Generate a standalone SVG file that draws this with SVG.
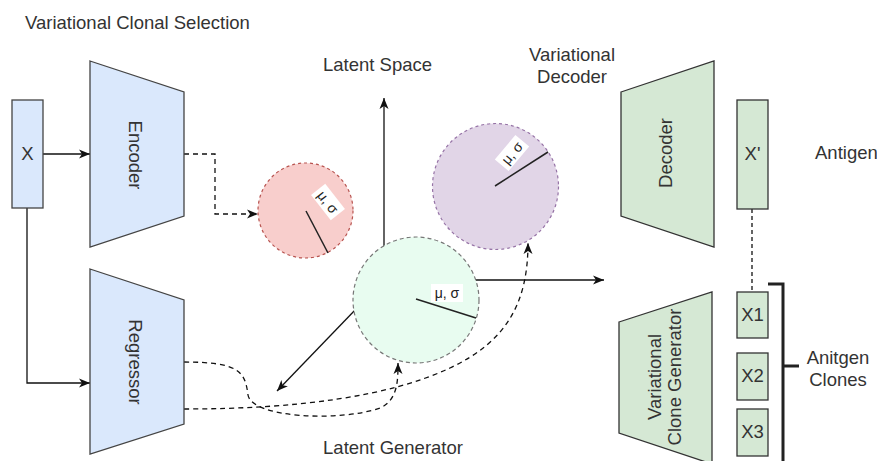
<svg xmlns="http://www.w3.org/2000/svg" width="877" height="461" viewBox="0 0 877 461">
<style>
text{font-family:"Liberation Sans",Arial,sans-serif;font-size:18.5px;fill:#333}
.lbl{font-size:14px}
.blue{fill:#dae8fc;stroke:#444;stroke-width:1.3}
.green{fill:#d5e8d4;stroke:#333;stroke-width:1.3}
.conn{fill:none;stroke:#111;stroke-width:1.3}
.dash{stroke-dasharray:5 4}
.mid{text-anchor:middle}
</style>
<defs>
<marker id="arr" markerUnits="userSpaceOnUse" markerWidth="12" markerHeight="10" refX="11" refY="5" orient="auto">
<path d="M0,0.5 L11,5 L0,9.5 L3,5 Z" fill="#111"/>
</marker>
</defs>
<rect width="877" height="461" fill="#fff"/>
<text x="25" y="29">Variational Clonal Selection</text>
<text x="323" y="71">Latent Space</text>
<text class="mid" x="572" y="61">Variational</text>
<text class="mid" x="572" y="83">Decoder</text>
<text x="815" y="159">Antigen</text>
<text class="mid" x="838" y="364">Anitgen</text>
<text class="mid" x="838" y="386">Clones</text>
<text class="mid" x="393" y="454">Latent Generator</text>

<g id="connectors">
<path class="conn" d="M43,154 L90,154" marker-end="url(#arr)"/>
<path class="conn" d="M27,208 L27,383 L90,383" marker-end="url(#arr)"/>
<path class="conn dash" d="M184,154 L215,154 L215,214 L258,214" marker-end="url(#arr)"/>
<path class="conn" d="M384,280 L384,98" marker-end="url(#arr)"/>
<path class="conn" d="M384,280 L604,280" marker-end="url(#arr)"/>
<path class="conn" d="M384,280 L277,391" marker-end="url(#arr)"/>
<path class="conn dash" d="M184,362 C240,362 245,372 248,395 C252,418 340,422 380,408 C398,400 398,380 398,363" marker-end="url(#arr)"/>
<path class="conn dash" d="M184,409 C300,409 390,396 450,368 C505,342 528,305 528,243" marker-end="url(#arr)"/>
<path class="conn dash" d="M752,209 L752,292" stroke-width="1" style="stroke-dasharray:4 3"/>
<path fill="none" stroke="#222" stroke-width="3" d="M768,284 L783,284 L783,465 M783,366 L799,366"/>
</g>

<g id="x"><rect class="blue" x="12" y="100" width="31" height="108"/><text class="mid" x="27.5" y="160">X</text></g>
<g id="encoder"><polygon class="blue" points="90,61 184,92 184,216 90,247"/><text class="mid" transform="translate(129,155) rotate(90)">Encoder</text></g>
<g id="regressor"><polygon class="blue" points="90,269 184,300 184,424 90,454"/><text class="mid" transform="translate(129,362) rotate(90)">Regressor</text></g>

<g id="red-dist">
<circle cx="305.5" cy="210.5" r="47.5" fill="#f8cecc" stroke="#b85450" stroke-width="1.2" stroke-dasharray="3 3"/>
<line x1="306" y1="211" x2="328" y2="253" stroke="#222" stroke-width="1.5"/>
<g transform="translate(328,202) rotate(52)"><rect x="-16" y="-9" width="32" height="18" fill="#fff"/><text class="mid lbl" y="5" style="fill:#222">μ, σ</text></g>
</g>

<g id="purple-dist">
<circle cx="495.5" cy="186.5" r="63" fill="#e1d5e7" stroke="#9673a6" stroke-width="1.2" stroke-dasharray="3 3"/>
<line x1="495" y1="186" x2="548" y2="152" stroke="#222" stroke-width="1.5"/>
<g transform="translate(512,153) rotate(-50)"><rect x="-16" y="-9" width="32" height="18" fill="#fff"/><text class="mid lbl" y="5" style="fill:#222">μ, σ</text></g>
</g>

<g id="green-dist">
<circle cx="416" cy="300" r="63" fill="#e8fcf0" stroke="#777" stroke-width="1.2" stroke-dasharray="4 3"/>
<line x1="416" y1="299" x2="476" y2="318" stroke="#222" stroke-width="1.5"/>
<g transform="translate(447,293)"><rect x="-16" y="-9" width="32" height="18" fill="#fff"/><text class="mid lbl" y="5" style="fill:#222">μ, σ</text></g>
</g>

<g id="decoder"><polygon class="green" points="621,92 714,61 714,247 621,216"/><text class="mid" transform="translate(672,153) rotate(-90)">Decoder</text></g>
<g id="xprime"><rect class="green" x="737" y="100" width="31" height="109"/><text class="mid" x="752.5" y="160">X'</text></g>
<g id="clone-gen"><polygon class="green" points="619,322 712,292 712,464 619,433"/>
<text class="mid" transform="translate(661,377) rotate(-90)">Variational</text>
<text class="mid" transform="translate(681,377) rotate(-90)">Clone Generator</text></g>
<g id="x1"><rect class="green" x="737" y="292" width="31" height="46"/><text class="mid" x="752.5" y="321">X1</text></g>
<g id="x2"><rect class="green" x="737" y="353" width="31" height="47"/><text class="mid" x="752.5" y="382">X2</text></g>
<g id="x3"><rect class="green" x="737" y="409" width="31" height="47"/><text class="mid" x="752.5" y="438">X3</text></g>
</svg>
